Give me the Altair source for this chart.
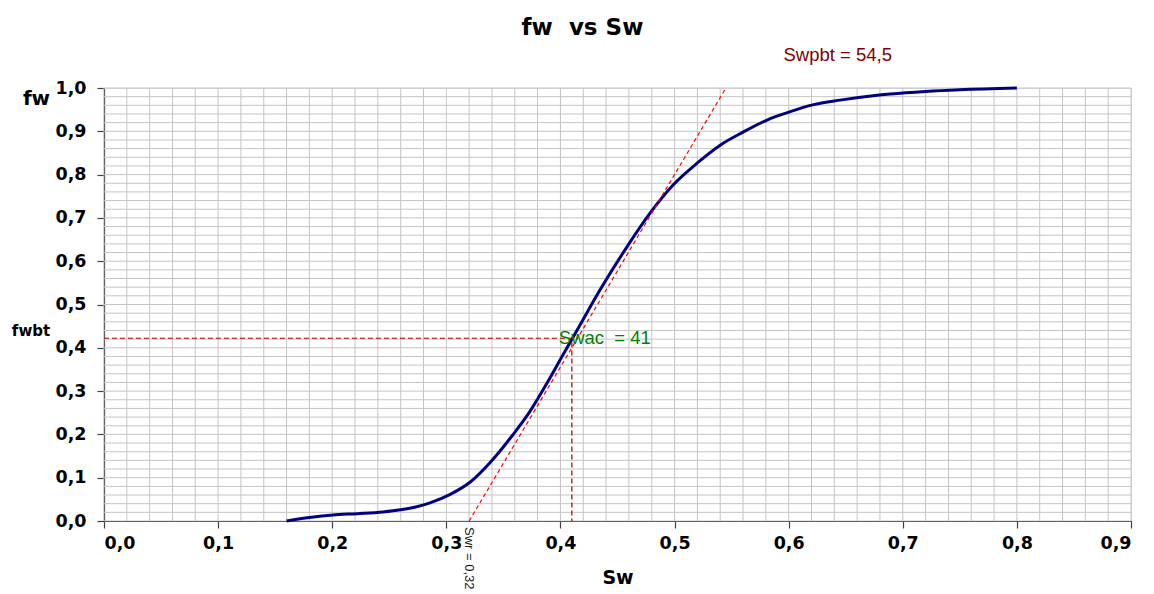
import altair as alt
import numpy as np
import pandas as pd

# Fractional flow curve fw(Sw)
sw = [0.160, 0.180, 0.2007, 0.222, 0.2445, 0.260, 0.274, 0.2857, 0.303, 0.321,
      0.338, 0.358, 0.373, 0.389, 0.401, 0.417, 0.435, 0.458, 0.4785, 0.4987,
      0.520, 0.540, 0.560, 0.581, 0.601, 0.621, 0.645, 0.674, 0.689, 0.720,
      0.750, 0.800]
fw = [0.000, 0.008, 0.014, 0.017, 0.021, 0.026, 0.033, 0.042, 0.061, 0.090,
      0.134, 0.198, 0.252, 0.322, 0.378, 0.452, 0.535, 0.632, 0.711, 0.776,
      0.827, 0.868, 0.898, 0.926, 0.945, 0.961, 0.972, 0.982, 0.986, 0.992,
      0.996, 1.000]

# Welge tangent construction
SWR = 0.32      # tangent meets fw = 0
SWPBT = 0.545   # tangent meets fw = 1
SWAC = 0.41     # average saturation at breakthrough
FWBT = 0.422    # fw at breakthrough

x_ticks = [round(0.1 * i, 1) for i in range(10)]
y_ticks = [round(0.1 * i, 1) for i in range(11)]

BOLD_FONT = "DejaVu Sans"
FONT = "Liberation Sans"
comma_fmt = "replace(format(datum.value, '.1f'), '.', ',')"

x_scale = alt.Scale(domain=[0, 0.9], nice=False, zero=False)
y_scale = alt.Scale(domain=[0, 1], nice=False, zero=False)

x_axis = alt.Axis(
    values=x_ticks, labelExpr=comma_fmt, grid=False,
    domainColor="#000000", domainWidth=1.2,
    tickColor="#404040", tickSize=7, tickWidth=1.2,
    labelFont=BOLD_FONT, labelFontSize=17.5, labelFontWeight="bold",
    labelColor="#000000", labelPadding=6,
    title="Sw", titleFont=BOLD_FONT, titleFontSize=19,
    titleFontWeight="bold", titleColor="#000000", titlePadding=17,
)
y_axis = alt.Axis(
    values=y_ticks, labelExpr=comma_fmt, grid=False,
    domainColor="#000000", domainWidth=1.2,
    tickColor="#404040", tickSize=7, tickWidth=1.2,
    labelFont=BOLD_FONT, labelFontSize=17.5, labelFontWeight="bold",
    labelColor="#000000", labelPadding=11,
    title="fw", titleFont=BOLD_FONT, titleFontSize=20,
    titleFontWeight="bold", titleColor="#000000",
    titleAngle=0, titleAlign="center", titleBaseline="middle",
    titleX=-68, titleY=10,
)


def X(field):
    return alt.X(field, type="quantitative", scale=x_scale, axis=x_axis)


def Y(field):
    return alt.Y(field, type="quantitative", scale=y_scale, axis=y_axis)


curve_df = pd.DataFrame({"Sw": sw, "fw": fw})
grid_x = pd.DataFrame({"Sw": np.round(np.arange(0, 0.9001, 0.02), 2)})
grid_y = pd.DataFrame({"fw": np.round(np.arange(0, 1.0001, 0.02), 2)})

vgrid = alt.Chart(grid_x).mark_rule(color="#c4c4c4", strokeWidth=1).encode(x=X("Sw"))
hgrid = alt.Chart(grid_y).mark_rule(color="#c4c4c4", strokeWidth=1).encode(y=Y("fw"))

curve = alt.Chart(curve_df).mark_line(
    color="#000080", strokeWidth=3, interpolate="monotone"
).encode(x=X("Sw"), y=Y("fw"))

tangent_df = pd.DataFrame({"Sw": [SWR, SWPBT], "fw": [0.0, 1.0]})
tangent = alt.Chart(tangent_df).mark_line(
    color="#ff0000", strokeWidth=1.2, strokeDash=[4, 3]
).encode(x=X("Sw"), y=Y("fw"))

bt_df = pd.DataFrame({"Sw": [0.0, SWAC, SWAC], "fw": [FWBT, FWBT, 0.0], "idx": [0, 1, 2]})
bt_lines = alt.Chart(bt_df).mark_line(
    color="#a00000", strokeWidth=1.2, strokeDash=[5, 3]
).encode(x=X("Sw"), y=Y("fw"), order=alt.Order("idx:Q"))

swac_label = alt.Chart(pd.DataFrame({"Sw": [SWAC], "fw": [FWBT], "t": ["Swac\u00a0\u00a0= 41"]})).mark_text(
    align="left", baseline="middle", font=FONT, fontSize=18.5, color="#008000", dx=-13
).encode(x=X("Sw"), y=Y("fw"), text="t:N")

swr_label = alt.Chart(pd.DataFrame({"Sw": [SWR], "fw": [0.0], "t": ["Swr = 0,32"]})).mark_text(
    align="left", baseline="middle", angle=90, font=FONT, fontSize=13,
    color="#202020", dx=6
).encode(x=X("Sw"), y=Y("fw"), text="t:N")

swpbt_label = alt.Chart(pd.DataFrame({"Sw": [0.643], "fw": [1.076], "t": ["Swpbt = 54,5"]})).mark_text(
    align="center", baseline="middle", font=FONT, fontSize=18.5, color="#800000"
).encode(x=X("Sw"), y=Y("fw"), text="t:N")

fwbt_label = alt.Chart(pd.DataFrame({"fw": [FWBT], "t": ["fwbt"]})).mark_text(
    align="center", baseline="middle", font=BOLD_FONT, fontSize=15,
    fontWeight="bold", color="#000000", dy=-7
).encode(x=alt.value(-73), y=Y("fw"), text="t:N")

chart = alt.layer(
    vgrid, hgrid, curve, tangent, bt_lines,
    swac_label, swr_label, swpbt_label, fwbt_label,
).properties(
    width=1027,
    height=433,
    autosize=alt.AutoSizeParams(type="none"),
    padding={"left": 104, "top": 88, "right": 23, "bottom": 73},
    title=alt.TitleParams(
        text="fw\u00a0\u00a0vs Sw", font=BOLD_FONT, fontSize=23, fontWeight="bold",
        color="#000000", anchor="middle", frame="group", dx=-35, offset=6,
    ),
).configure_view(
    stroke="#909090", strokeWidth=1.5
).configure(background="#ffffff")

chart.save("out.html", embed_options={"renderer": "svg", "actions": False})
